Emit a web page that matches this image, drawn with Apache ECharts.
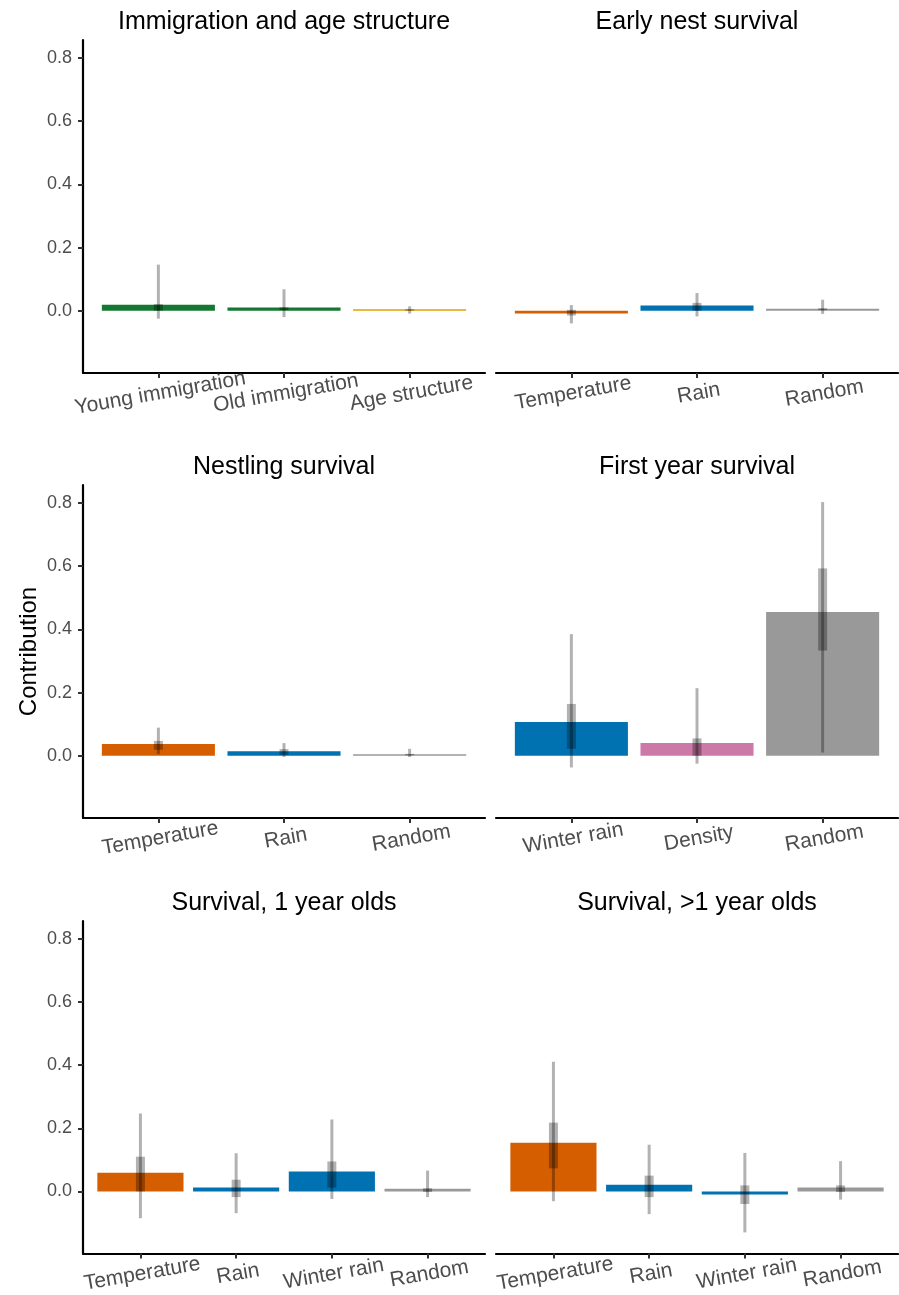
<!DOCTYPE html>
<html>
<head>
<meta charset="utf-8">
<title>Contribution of drivers to population growth</title>
<script src="https://cdn.jsdelivr.net/npm/echarts@6/dist/echarts.min.js"></script>
<style>
  html, body { margin: 0; padding: 0; background: #ffffff; }
  #chart { width: 899px; height: 1295px; }
</style>
</head>
<body>
<div id="chart"></div>
<script>
// ---- Data: posterior mean contribution, 95% and 50% credible intervals ----
const immigrationTitle = 'Immigration and age structure';
const immigrationCats = ['Young immigration', 'Old immigration', 'Age structure'];
const immigrationMean = [0.019, 0.010, 0.005];
const immigrationCI95 = [[-0.025, 0.146], [-0.020, 0.068], [-0.009, 0.014]];
const immigrationCI50 = [[0.000, 0.021], [0.002, 0.011], [0.000, 0.005]];

const earlyNestTitle = 'Early nest survival';
const earlyNestCats = ['Temperature', 'Rain', 'Random'];
const earlyNestMean = [-0.009, 0.017, 0.006];
const earlyNestCI95 = [[-0.040, 0.018], [-0.018, 0.056], [-0.010, 0.035]];
const earlyNestCI50 = [[-0.015, 0.003], [0.000, 0.025], [0.002, 0.008]];

const nestlingTitle = 'Nestling survival';
const nestlingCats = ['Temperature', 'Rain', 'Random'];
const nestlingMean = [0.037, 0.014, 0.005];
const nestlingCI95 = [[0.005, 0.089], [-0.004, 0.040], [-0.004, 0.022]];
const nestlingCI50 = [[0.019, 0.047], [0.003, 0.021], [0.001, 0.006]];

const firstYearTitle = 'First year survival';
const firstYearCats = ['Winter rain', 'Density', 'Random'];
const firstYearMean = [0.107, 0.040, 0.455];
const firstYearCI95 = [[-0.037, 0.385], [-0.025, 0.214], [0.010, 0.803]];
const firstYearCI50 = [[0.022, 0.164], [0.000, 0.055], [0.333, 0.593]];

const yearlingTitle = 'Survival, 1 year olds';
const yearlingCats = ['Temperature', 'Rain', 'Winter rain', 'Random'];
const yearlingMean = [0.059, 0.012, 0.063, 0.0085];
const yearlingCI95 = [[-0.085, 0.247], [-0.069, 0.121], [-0.024, 0.228], [-0.018, 0.066]];
const yearlingCI50 = [[0.000, 0.110], [-0.018, 0.037], [0.012, 0.095], [-0.002, 0.010]];

const adultTitle = 'Survival, >1 year olds';
const adultCats = ['Temperature', 'Rain', 'Winter rain', 'Random'];
const adultMean = [0.154, 0.021, -0.0095, 0.0127];
const adultCI95 = [[-0.031, 0.411], [-0.072, 0.148], [-0.130, 0.122], [-0.026, 0.096]];
const adultCI50 = [[0.073, 0.218], [-0.018, 0.050], [-0.040, 0.019], [-0.002, 0.019]];

const yTicks = [0, 0.2, 0.4, 0.6, 0.8];
const yLabel = 'Contribution';

// ---- Styling ----
const FONT = '"Liberation Sans", Arial, Helvetica, sans-serif';
const driverColour = {
  'Young immigration': '#147832',
  'Old immigration': '#147832',
  'Age structure': '#E69F00',
  'Temperature': '#D55E00',
  'Rain': '#0072B2',
  'Winter rain': '#0072B2',
  'Density': '#CC79A7',
  'Random': '#999999'
};
const Y_MIN = -0.197, Y_MAX = 0.857;
const columns = [{ left: 83, width: 402 }, { left: 496, width: 402 }];
const rowsTop = [40, 485, 921];
const ROW_H = 333;

const panels = [
  { title: immigrationTitle, cats: immigrationCats, mean: immigrationMean, ci95: immigrationCI95, ci50: immigrationCI50 },
  { title: earlyNestTitle, cats: earlyNestCats, mean: earlyNestMean, ci95: earlyNestCI95, ci50: earlyNestCI50 },
  { title: nestlingTitle, cats: nestlingCats, mean: nestlingMean, ci95: nestlingCI95, ci50: nestlingCI50 },
  { title: firstYearTitle, cats: firstYearCats, mean: firstYearMean, ci95: firstYearCI95, ci50: firstYearCI50 },
  { title: yearlingTitle, cats: yearlingCats, mean: yearlingMean, ci95: yearlingCI95, ci50: yearlingCI50 },
  { title: adultTitle, cats: adultCats, mean: adultMean, ci95: adultCI95, ci50: adultCI50 }
];

// Bar + 95% interval line + 50% interval band, all placed through the axis scales
function renderBar(params, api) {
  const x = api.value(0);
  const v = api.value(1);
  const base = api.coord([x - 0.45, 0]);
  const tip = api.coord([x + 0.45, v]);
  const hi95 = api.coord([x, api.value(3)]);
  const lo95 = api.coord([x, api.value(2)]);
  const hi50 = api.coord([x, api.value(5)]);
  const lo50 = api.coord([x, api.value(4)]);
  const shade = 'rgba(0,0,0,0.3)';
  return {
    type: 'group',
    children: [
      {
        type: 'rect',
        shape: { x: base[0], y: Math.min(base[1], tip[1]), width: tip[0] - base[0], height: Math.abs(tip[1] - base[1]) },
        style: { fill: api.visual('color') }
      },
      {
        type: 'rect',
        shape: { x: hi95[0] - 1.5, y: hi95[1], width: 3, height: lo95[1] - hi95[1] },
        style: { fill: shade }
      },
      {
        type: 'rect',
        shape: { x: hi50[0] - 4.5, y: hi50[1], width: 9, height: lo50[1] - hi50[1] },
        style: { fill: shade }
      }
    ]
  };
}

const grid = [], xAxis = [], yAxis = [], series = [], title = [];
panels.forEach((p, i) => {
  const col = columns[i % 2];
  const top = rowsTop[Math.floor(i / 2)];
  const isLeft = i % 2 === 0;
  const n = p.cats.length;
  const positions = p.cats.map((_, k) => k + 1);

  grid.push({ left: col.left, top: top, width: col.width, height: ROW_H, containLabel: false });

  title.push({
    text: p.title,
    left: col.left + col.width / 2,
    top: top - 30,
    textAlign: 'center',
    padding: 0,
    textStyle: { fontFamily: FONT, fontSize: 25, fontWeight: 'normal', color: '#000000' }
  });

  xAxis.push({
    type: 'value',
    gridIndex: i,
    min: 0.4,
    max: n + 0.6,
    splitLine: { show: false },
    axisLine: { show: true, onZero: false, lineStyle: { color: '#000000', width: 2.2 } },
    axisTick: { show: true, customValues: positions, length: 5, lineStyle: { color: '#333333', width: 2 } },
    axisLabel: {
      show: true,
      customValues: positions,
      formatter: (val) => p.cats[Math.round(val) - 1] || '',
      rotate: 10,
      align: 'center',
      verticalAlign: 'top',
      margin: 10,
      fontFamily: FONT,
      fontSize: 21,
      color: '#4D4D4D',
      hideOverlap: false
    }
  });

  yAxis.push({
    type: 'value',
    gridIndex: i,
    min: Y_MIN,
    max: Y_MAX,
    splitLine: { show: false },
    axisLine: { show: isLeft, onZero: false, lineStyle: { color: '#000000', width: 2.2 } },
    axisTick: { show: isLeft, customValues: yTicks, length: 5, lineStyle: { color: '#333333', width: 2 } },
    axisLabel: {
      show: isLeft,
      customValues: yTicks,
      formatter: (val) => val.toFixed(1),
      margin: 11,
      fontFamily: FONT,
      fontSize: 18,
      color: '#4D4D4D'
    },
    name: i === 2 ? yLabel : '',
    nameLocation: 'middle',
    nameGap: 42,
    nameRotate: 90,
    nameTextStyle: { fontFamily: FONT, fontSize: 24, color: '#000000' }
  });

  series.push({
    type: 'custom',
    xAxisIndex: i,
    yAxisIndex: i,
    renderItem: renderBar,
    silent: true,
    data: p.cats.map((c, k) => ({
      value: [k + 1, p.mean[k], p.ci95[k][0], p.ci95[k][1], p.ci50[k][0], p.ci50[k][1]],
      itemStyle: { color: driverColour[c] }
    }))
  });
});

const chart = echarts.init(document.getElementById('chart'), null, { renderer: 'canvas' });
chart.setOption({
  animation: false,
  backgroundColor: '#ffffff',
  title, grid, xAxis, yAxis, series
});
</script>
</body>
</html>
